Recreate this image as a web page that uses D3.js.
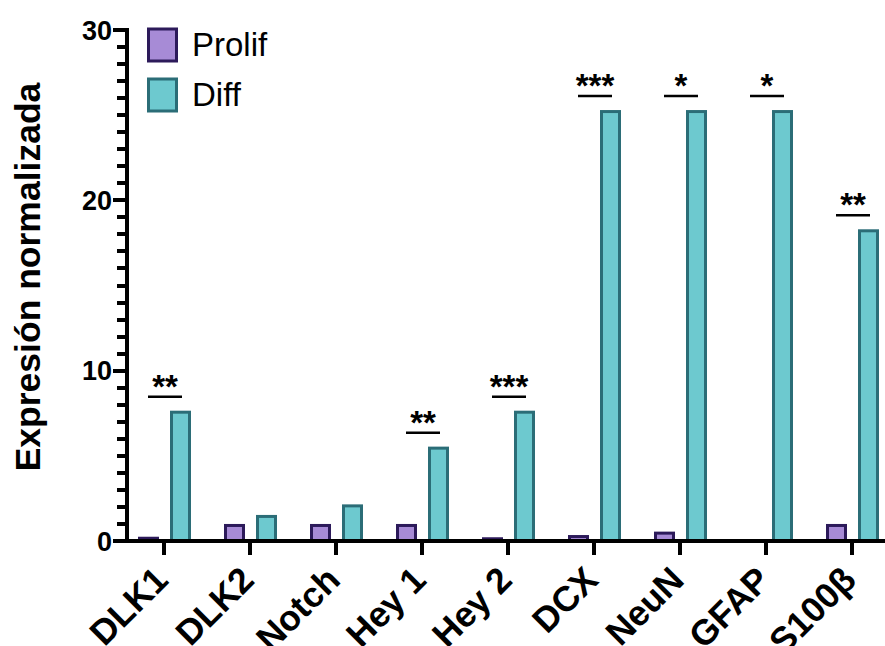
<!DOCTYPE html>
<html>
<head>
<meta charset="utf-8">
<script src="https://cdn.jsdelivr.net/npm/d3@7"></script>
<style>
  html, body { margin: 0; padding: 0; background: #fff; }
  svg { display: block; font-family: "Liberation Sans", Arial, Helvetica, sans-serif; }
</style>
</head>
<body>
<svg id="chart" width="885" height="646"></svg>
<script>
// Genes measured, left to right
const categories = ["DLK1", "DLK2", "Notch", "Hey 1", "Hey 2", "DCX", "NeuN", "GFAP", "S100β"];
// Normalized expression per condition
const prolifValues = [0.25, 1.0, 1.0, 1.0, 0.22, 0.35, 0.55, 0, 1.0];
const diffValues = [7.65, 1.53, 2.15, 5.54, 7.65, 25.3, 25.3, 25.3, 18.3];
// Significance marks over each pair
const sigLabels = ["**", "", "", "**", "***", "***", "*", "*", "**"];
// Series and axis ticks
const seriesNames = ["Prolif", "Diff"];
const yMajorTicks = [0, 10, 20, 30];
const yMinorTicks = d3.range(0, 31, 1);

const colors = {
  Prolif: { fill: "#a78bd6", stroke: "#2c1a5a" },
  Diff: { fill: "#6dc9cf", stroke: "#2b6d77" }
};

const svg = d3.select("#chart");
const axisX = 127, axisY = 541;

const y = d3.scaleLinear().domain([0, 30]).range([541, 30]);
const x0 = d3.scaleBand().domain(categories).range([121, 895]).paddingInner(0).paddingOuter(0);
const x1 = d3.scaleBand().domain(seriesNames).range([17, 70]).paddingInner(11 / 32).paddingOuter(0);
const center = c => x0(c) + x0.bandwidth() / 2;

const rows = categories.map((c, i) => ({ cat: c, Prolif: prolifValues[i], Diff: diffValues[i], sig: sigLabels[i] }));

// Bars
const sw = 3;
const groups = svg.append("g").selectAll("g").data(rows).join("g")
  .attr("transform", d => `translate(${x0(d.cat)},0)`);
groups.selectAll("rect")
  .data(d => seriesNames.map(k => ({ key: k, value: d[k] })).filter(e => e.value > 0))
  .join("rect")
  .attr("x", e => x1(e.key) + sw / 2)
  .attr("width", x1.bandwidth() - sw)
  .attr("y", e => y(e.value) + sw / 2)
  .attr("height", e => Math.max(0.5, y(0) - y(e.value) - sw / 2))
  .attr("fill", e => colors[e.key].fill)
  .attr("stroke", e => colors[e.key].stroke)
  .attr("stroke-width", sw);

// Significance bars and stars
const sig = svg.append("g").selectAll("g").data(rows.filter(d => d.sig)).join("g");
sig.append("line")
  .attr("x1", d => center(d.cat) - 16)
  .attr("x2", d => center(d.cat) + 18)
  .attr("y1", d => y(d.Diff) - 14)
  .attr("y2", d => y(d.Diff) - 14)
  .attr("stroke", "#000").attr("stroke-width", 2.5);
sig.append("text")
  .attr("x", d => center(d.cat) + 1)
  .attr("y", d => y(d.Diff) - 14 + 1)
  .attr("text-anchor", "middle")
  .attr("font-size", 33).attr("font-weight", "bold")
  .text(d => d.sig);

// Y axis: minor ticks every unit, long ticks with labels every ten (pixel-aligned bars)
const tickH = 4;
const yTicks = svg.append("g").attr("shape-rendering", "crispEdges");
yTicks.selectAll("rect.minor").data(yMinorTicks).join("rect")
  .attr("class", "minor")
  .attr("x", axisX - 10).attr("width", 10)
  .attr("y", d => Math.round(y(d)) - tickH / 2).attr("height", tickH)
  .attr("fill", "#000");
yTicks.selectAll("rect.major").data(yMajorTicks).join("rect")
  .attr("class", "major")
  .attr("x", axisX - 14).attr("width", 14)
  .attr("y", d => Math.round(y(d)) - tickH / 2).attr("height", tickH)
  .attr("fill", "#000");
svg.append("g").selectAll("text").data(yMajorTicks).join("text")
  .attr("x", axisX - 15).attr("y", d => y(d))
  .attr("dy", "0.36em")
  .attr("text-anchor", "end")
  .attr("font-size", 27).attr("font-weight", "bold")
  .text(d3.format("d"));
svg.append("rect")
  .attr("shape-rendering", "crispEdges")
  .attr("x", axisX - 2).attr("width", 4)
  .attr("y", y(30) - 2).attr("height", axisY + 2 - y(30) + 2)
  .attr("fill", "#000");

// X axis
svg.append("g").attr("shape-rendering", "crispEdges")
  .selectAll("rect").data(categories).join("rect")
  .attr("x", d => Math.round(center(d)) - 2).attr("width", 4)
  .attr("y", axisY).attr("height", 14)
  .attr("fill", "#000");
svg.append("rect")
  .attr("shape-rendering", "crispEdges")
  .attr("x", axisX - 2).attr("width", 900 - axisX)
  .attr("y", axisY - 2).attr("height", 4)
  .attr("fill", "#000");

// Rotated category labels
svg.append("g").selectAll("text").data(categories).join("text")
  .attr("transform", d => `translate(${center(d) + 6},582) rotate(-45)`)
  .attr("text-anchor", "end")
  .attr("font-size", 35.5).attr("font-weight", "bold")
  .text(d => d);

// Y title
svg.append("text")
  .attr("transform", "translate(40,277) rotate(-90)")
  .attr("text-anchor", "middle")
  .attr("font-size", 35.5).attr("font-weight", "bold")
  .text("Expresión normalizada");

// Legend
const legend = svg.append("g").selectAll("g").data(seriesNames).join("g")
  .attr("transform", (d, i) => `translate(147,${29 + i * 50})`);
legend.append("rect")
  .attr("x", 1.5).attr("y", 0)
  .attr("width", 28).attr("height", 32)
  .attr("fill", d => colors[d].fill)
  .attr("stroke", d => colors[d].stroke)
  .attr("stroke-width", 3);
legend.append("text")
  .attr("x", 45).attr("y", 27)
  .attr("font-size", 33)
  .text(d => d);
</script>
</body>
</html>
